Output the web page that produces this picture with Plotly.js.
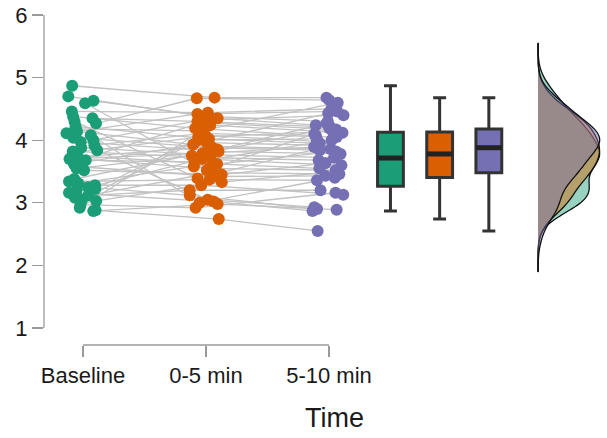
<!DOCTYPE html>
<html>
<head>
<meta charset="utf-8">
<script src="https://cdn.plot.ly/plotly-3.0.1.min.js"></script>
<style>html,body{margin:0;padding:0;background:#fff;}#chart{width:607px;height:438px;}</style>
</head>
<body>
<div id="chart"></div>
<script>
// ---- data (one value per subject, same subject order in each array) ----
var categories = ["Baseline", "0-5 min", "5-10 min"];
var baseline = [2.87,2.88,2.92,2.97,3.03,3.05,3.08,3.12,3.16,3.20,3.22,3.25,
                3.28,3.31,3.34,3.38,3.52,3.55,3.58,3.62,3.66,3.68,3.70,3.71,
                3.72,3.75,3.80,3.82,3.84,3.88,3.92,3.97,4.00,4.04,4.08,4.11,
                4.14,4.18,4.22,4.27,4.30,4.35,4.38,4.46,4.59,4.63,4.70,4.87];
var min0to5 = [2.98,2.74,4.24,2.92,3.33,4.00,3.48,3.20,3.02,3.70,4.08,3.12,
               3.28,3.58,3.37,3.85,3.45,3.75,3.42,3.96,4.28,3.65,3.79,3.55,
               3.90,3.62,4.05,3.72,3.05,3.77,4.11,3.82,4.32,3.88,3.00,4.42,
               3.93,4.15,4.02,4.67,3.39,4.30,4.19,4.44,3.52,4.38,4.35,4.68];
var min5to10 = [2.89,2.55,4.12,3.16,3.50,4.02,3.46,3.20,2.87,3.60,3.98,2.90,
                3.13,3.82,3.36,4.27,3.63,4.19,3.43,3.92,4.17,4.00,3.89,3.52,
                3.86,3.55,4.14,3.68,2.93,3.72,4.05,3.78,4.40,3.84,3.40,4.46,
                4.43,4.60,3.95,4.64,3.87,4.21,4.07,4.50,4.10,4.30,4.24,4.68];
var tickValsY = [1, 2, 3, 4, 5, 6];
var xTitle = "Time";

// ---- style ----
var colors = ["#1B9E77", "#D95F02", "#7570B3"];
var fills = ["rgba(27,158,119,0.45)", "rgba(217,95,2,0.45)", "rgba(117,112,179,0.45)"];
var series = [baseline, min0to5, min5to10];
var catPos = [1, 2, 3];
var boxPos = [3.5, 3.9, 4.3];
var boxW = 0.21;
var densPos = 4.70;

// deterministic horizontal jitter (visual spread only)
function jit(i, g) { var s = Math.sin(i * 12.9898 + g * 78.233 + 1.7) * 43758.5453; return (s - Math.floor(s) - 0.5) * 0.27; }

var traces = [];
// connecting lines
var lx = [], ly = [];
for (var i = 0; i < baseline.length; i++) {
  for (var g = 0; g < 3; g++) { lx.push(catPos[g] + jit(i, g)); ly.push(series[g][i]); }
  lx.push(null); ly.push(null);
}
traces.push({type: "scatter", mode: "lines", x: lx, y: ly, connectgaps: false,
  line: {color: "#c2c2c2", width: 1.3}, hoverinfo: "skip", showlegend: false});
// points
for (var g = 0; g < 3; g++) {
  traces.push({type: "scatter", mode: "markers", name: categories[g],
    x: series[g].map(function (v, i) { return catPos[g] + jit(i, g); }), y: series[g],
    marker: {color: colors[g], size: 12, line: {width: 0}}, showlegend: false});
}
// boxes
function median(a) { var s = a.slice().sort(function (p, q) { return p - q; }); var n = s.length;
  return n % 2 ? s[(n - 1) / 2] : (s[n / 2 - 1] + s[n / 2]) / 2; }
for (var g = 0; g < 3; g++) {
  traces.push({type: "box", name: categories[g], y: series[g], x0: boxPos[g], width: boxW,
    boxpoints: false, fillcolor: colors[g], line: {color: "#333333", width: 3},
    whiskerwidth: 0.5, showlegend: false});
  var m = median(series[g]);
  traces.push({type: "scatter", mode: "lines", x: [boxPos[g] - boxW / 2, boxPos[g] + boxW / 2], y: [m, m],
    line: {color: "#222222", width: 5}, hoverinfo: "skip", showlegend: false});
}
// densities
for (var g = 0; g < 3; g++) {
  traces.push({type: "violin", name: categories[g], y: series[g], x0: densPos, side: "positive",
    width: 1.0, bandwidth: 0.21, spanmode: "manual", span: [1.9, 5.55],
    scalegroup: "d", scalemode: "width", points: false,
    fillcolor: fills[g], line: {color: "#111111", width: 1.3}, showlegend: false});
}

var axisColor = "#9a9a9a";
var layout = {
  width: 607, height: 438,
  margin: {l: 44, r: 5, t: 10, b: 93},
  paper_bgcolor: "#ffffff", plot_bgcolor: "#ffffff",
  font: {family: "Liberation Sans, Arial, sans-serif", color: "#1a1a1a", size: 22},
  showlegend: false,
  violinmode: "overlay", boxmode: "overlay",
  xaxis: {range: [0.683, 5.22], tickvals: catPos, ticktext: categories,
    ticks: "outside", ticklen: 11, tickwidth: 1.3, tickcolor: axisColor,
    showgrid: false, zeroline: false, showline: false,
    tickfont: {size: 22, color: "#1a1a1a"}},
  yaxis: {range: [0.728, 6.08], tickvals: tickValsY,
    ticks: "outside", ticklen: 11, tickwidth: 1.3, tickcolor: axisColor,
    showgrid: false, zeroline: false, showline: false,
    tickfont: {size: 22, color: "#1a1a1a"}},
  annotations: [
    {text: xTitle, xref: "paper", yref: "paper", x: 0.5215, y: -0.218, xanchor: "center", yanchor: "middle",
     showarrow: false, font: {size: 27, color: "#1a1a1a"}}
  ],
  shapes: [
    {type: "line", xref: "paper", yref: "y", x0: 0, x1: 0, y0: 1, y1: 6, line: {color: axisColor, width: 1.3}},
    {type: "line", xref: "x", yref: "paper", x0: 1, x1: 3, y0: 0, y1: 0, line: {color: axisColor, width: 1.3}}
  ]
};
Plotly.newPlot("chart", traces, layout, {displayModeBar: false, staticPlot: true});
</script>
</body>
</html>
